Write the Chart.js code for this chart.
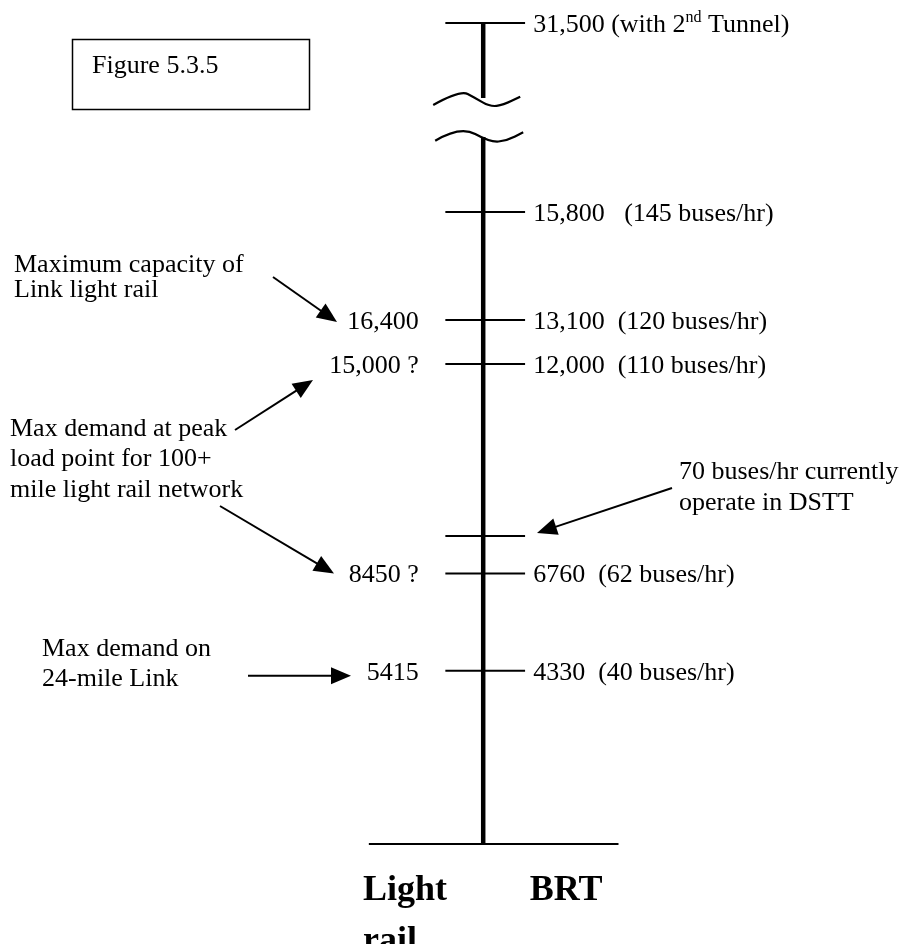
<!DOCTYPE html>
<html>
<head>
<meta charset="utf-8">
<script src="https://cdn.jsdelivr.net/npm/chart.js@4.4.1/dist/chart.umd.min.js"></script>
<style>
html,body{margin:0;padding:0;background:#fff;}
#wrap{position:relative;width:906px;height:944px;}
</style>
</head>
<body>
<div id="wrap"><canvas id="c"></canvas></div>
<script>
// ---------------- data ----------------
const categories = [['Light', 'rail'], ['BRT']];
const brtValues = [31500, 15800, 13100, 12000, 7700, 6760, 4330];
const brtLabels = ['31,500 (with 2nd Tunnel)', '15,800   (145 buses/hr)', '13,100  (120 buses/hr)', '12,000  (110 buses/hr)', '', '6760  (62 buses/hr)', '4330  (40 buses/hr)'];
const lightRailLabels = ['', '', '16,400', '15,000 ?', '', '8450 ?', '5415'];
const figureLabel = 'Figure 5.3.5';
const noteTexts = [
  ['Maximum capacity of', 'Link light rail'],
  ['Max demand at peak', 'load point for 100+', 'mile light rail network'],
  ['Max demand on', '24-mile Link'],
  ['70 buses/hr currently', 'operate in DSTT']
];
const noteTargets = [[13100], [12000, 6760], [4330], [7700]];

// ---------------- axis break ----------------
const BREAK_FROM = 17675, BREAK_TO = 29625, BREAK_GAP = 975;
function warp(v) {
  if (v <= BREAK_FROM) return v;
  if (v >= BREAK_TO) return v - (BREAK_TO - BREAK_FROM) + BREAK_GAP;
  return BREAK_FROM + (v - BREAK_FROM) / (BREAK_TO - BREAK_FROM) * BREAK_GAP;
}
function unwarp(t) {
  if (t <= BREAK_FROM) return t;
  if (t >= BREAK_FROM + BREAK_GAP) return t + (BREAK_TO - BREAK_FROM) - BREAK_GAP;
  return BREAK_FROM + (t - BREAK_FROM) / BREAK_GAP * (BREAK_TO - BREAK_FROM);
}
class BrokenLinearScale extends Chart.LinearScale {
  getPixelForValue(value) {
    if (value === null || value === undefined || isNaN(value)) return NaN;
    return super.getPixelForValue(warp(value));
  }
  getValueForPixel(pixel) { return unwarp(super.getValueForPixel(pixel)); }
}
BrokenLinearScale.id = 'brokenLinear';
BrokenLinearScale.defaults = {};
Chart.register(BrokenLinearScale);

// ---------------- layout / style ----------------
const FONT = '"Liberation Serif", "Times New Roman", Times, serif';
const FS = 26;
const TICK_L = -0.47, TICK_R = 0.52;
const BASE_L = -1.42, BASE_R = 1.68;
const X_BRT_LABEL = 0.62, X_LR_LABEL = -0.80;
const CAT_X = [-0.97, 1.03];
const NOTE_LAYOUT = [
  {x: 14, y: 263, lh: 25.5, arrows: [{fx: 273, fy: 277, tx: 337, dy: 2}]},
  {x: 10, y: 427, lh: 30.5, arrows: [{fx: 235, fy: 430, tx: 313, dy: 16}, {fx: 220, fy: 506, tx: 334, dy: 0}]},
  {x: 42, y: 647, lh: 30, arrows: [{fx: 248, fy: null, tx: 351, dy: 5}]},
  {x: 679, y: 470, lh: 31, arrows: [{fx: 672, fy: 488, tx: 537, dy: -3}]}
];
const WAVE_UP = [[-50, 7], [-23, -8], [-8, 0], [7, 8.7], [20, 7], [37, -1.3]];
const WAVE_LO = [[-48, 4.7], [-23, -10.3], [7, 6.3], [23.7, 4.7], [40, -3.7]];

// ---------------- datasets ----------------
const topValue = Math.max(...brtValues);
const lineDs = (pts, w) => ({data: pts, showLine: true, borderColor: '#000', borderWidth: w, pointRadius: 0, fill: false, clip: false, tension: 0});
const datasets = [];
datasets.push(lineDs([{x: 0, y: 0}, {x: 0, y: BREAK_FROM}], 4.5));
datasets.push(lineDs([{x: 0, y: BREAK_TO}, {x: 0, y: topValue}], 4.5));
datasets.push(lineDs([{x: BASE_L, y: 0}, {x: BASE_R, y: 0}], 2));
brtValues.forEach(v => datasets.push(lineDs([{x: TICK_L, y: v}, {x: TICK_R, y: v}], 2)));

// ---------------- drawing helpers ----------------
function setFont(ctx, size, bold) { ctx.font = (bold ? 'bold ' : '') + size + 'px ' + FONT; }
function drawRich(ctx, text, x, baseline, size) {
  const m = text.match(/^(.*?\d)(st|nd|rd|th)(\b.*)$/);
  ctx.textAlign = 'left';
  ctx.textBaseline = 'alphabetic';
  setFont(ctx, size);
  if (!m) { ctx.fillText(text, x, baseline); return; }
  ctx.fillText(m[1], x, baseline);
  let cx = x + ctx.measureText(m[1]).width;
  const ss = Math.round(size * 0.62);
  setFont(ctx, ss);
  ctx.fillText(m[2], cx, baseline - size * 0.36);
  cx += ctx.measureText(m[2]).width;
  setFont(ctx, size);
  ctx.fillText(m[3], cx, baseline);
}
function drawArrow(ctx, x1, y1, x2, y2) {
  const len = 20, hw = 8.5;
  const dx = x2 - x1, dy = y2 - y1, d = Math.hypot(dx, dy);
  const ux = dx / d, uy = dy / d;
  const bx = x2 - ux * len, by = y2 - uy * len;
  ctx.lineWidth = 2;
  ctx.beginPath(); ctx.moveTo(x1, y1); ctx.lineTo(bx + ux * 3, by + uy * 3); ctx.stroke();
  ctx.beginPath(); ctx.moveTo(x2, y2);
  ctx.lineTo(bx - uy * hw, by + ux * hw);
  ctx.lineTo(bx + uy * hw, by - ux * hw);
  ctx.closePath(); ctx.fill();
}
function drawWave(ctx, cx, cy, pts) {
  const p = pts.map(q => [cx + q[0], cy + q[1]]);
  ctx.lineWidth = 2.2;
  ctx.beginPath();
  ctx.moveTo(p[0][0], p[0][1]);
  for (let i = 1; i < p.length - 1; i++) {
    const mx = (p[i][0] + p[i + 1][0]) / 2, my = (p[i][1] + p[i + 1][1]) / 2;
    ctx.quadraticCurveTo(p[i][0], p[i][1], mx, my);
  }
  ctx.lineTo(p[p.length - 1][0], p[p.length - 1][1]);
  ctx.stroke();
}

const annotatePlugin = {
  id: 'annotate',
  afterDatasetsDraw(chart) {
    const ctx = chart.ctx, xs = chart.scales.x, ys = chart.scales.y;
    ctx.save();
    ctx.fillStyle = '#000'; ctx.strokeStyle = '#000';
    const ax = xs.getPixelForValue(0);
    // axis break waves
    drawWave(ctx, ax, ys.getPixelForValue(BREAK_TO), WAVE_UP);
    drawWave(ctx, ax, ys.getPixelForValue(BREAK_FROM) - 1, WAVE_LO);
    // row labels
    const off = FS * 0.34;
    brtValues.forEach((v, i) => {
      const y = ys.getPixelForValue(v);
      if (brtLabels[i]) drawRich(ctx, brtLabels[i], xs.getPixelForValue(X_BRT_LABEL), y + off, FS);
      if (lightRailLabels[i]) {
        setFont(ctx, FS); ctx.textAlign = 'right'; ctx.textBaseline = 'alphabetic';
        ctx.fillText(lightRailLabels[i], xs.getPixelForValue(X_LR_LABEL), y + off);
      }
    });
    // notes and arrows
    noteTexts.forEach((lines, n) => {
      const L = NOTE_LAYOUT[n];
      setFont(ctx, FS); ctx.textAlign = 'left'; ctx.textBaseline = 'alphabetic';
      lines.forEach((t, k) => ctx.fillText(t, L.x, L.y + k * L.lh + off));
      L.arrows.forEach((a, k) => {
        const ty = ys.getPixelForValue(noteTargets[n][k]) + a.dy;
        drawArrow(ctx, a.fx, a.fy === null ? ty : a.fy, a.tx, ty);
      });
    });
    // figure box
    ctx.lineWidth = 1.5;
    ctx.strokeRect(72.5, 39.5, 237, 70);
    setFont(ctx, FS); ctx.textAlign = 'left'; ctx.textBaseline = 'alphabetic';
    ctx.fillText(figureLabel, 92, 73);
    // category labels
    const base = ys.getPixelForValue(0);
    setFont(ctx, 36, true);
    categories.forEach((lines, c) => {
      const w = Math.max(...lines.map(t => ctx.measureText(t).width));
      const left = xs.getPixelForValue(CAT_X[c]) - w / 2;
      lines.forEach((t, k) => ctx.fillText(t, left, base + 56 + k * 51));
    });
    ctx.restore();
  }
};

new Chart(document.getElementById('c'), {
  type: 'scatter',
  data: {datasets},
  options: {
    responsive: true,
    maintainAspectRatio: false,
    animation: false,
    events: [],
    layout: {padding: 0},
    plugins: {legend: {display: false}, tooltip: {enabled: false}, title: {display: false}},
    scales: {
      x: {type: 'linear', min: -6, max: 5.25, display: false, bounds: 'data'},
      y: {type: 'brokenLinear', min: -2500, max: 21100, display: false, bounds: 'data'}
    }
  },
  plugins: [annotatePlugin]
});
</script>
</body>
</html>
